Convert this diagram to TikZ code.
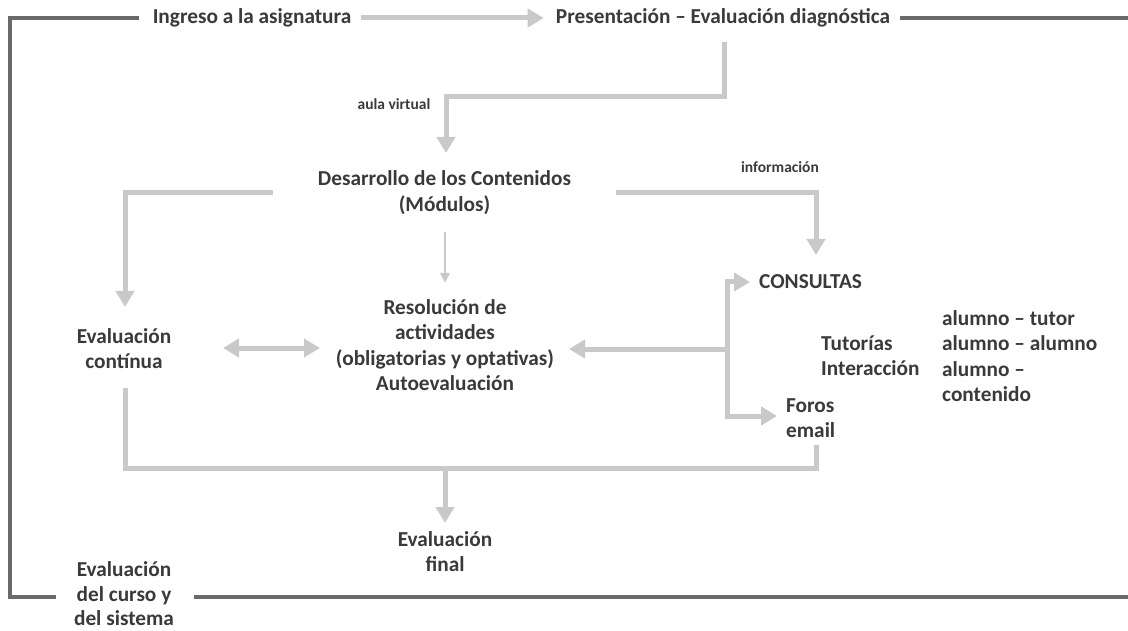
\documentclass[tikz,border=0pt]{standalone}
\usepackage{fontspec}
\setmainfont{Carlito}
\usetikzlibrary{arrows.meta}
\definecolor{txtc}{HTML}{3A3A3A}
\definecolor{lg}{HTML}{C9C9C9}
\definecolor{dg}{HTML}{6A6A6A}
\begin{document}
\begin{tikzpicture}[x=1pt,y=-1pt,
  txt/.style={font=\fontsize{21.3}{25.3}\selectfont\bfseries, text=txtc, inner sep=0pt, align=center},
  lbl/.style={font=\fontsize{15.5}{18}\selectfont\bfseries, text=txtc, inner sep=0pt},
  lline/.style={draw=lg, line width=5pt},
  larr/.style={lline, -{Triangle[length=16pt,width=18pt]}},
  dblarr/.style={lline, {Triangle[length=16pt,width=18pt]}-{Triangle[length=16pt,width=18pt]}},
  thinarr/.style={draw=lg, line width=2.5pt, -{Triangle[length=10pt,width=9pt]}},
  dline/.style={draw=dg, line width=3.5pt}]
\useasboundingbox[fill=white] (0,0) rectangle (1128,631);

% nodes
\node[txt] (ingreso) at (252,18) {Ingreso a la asignatura};
\node[txt] (pres) at (723,18) {Presentación – Evaluación diagnóstica};
\node[lbl] (aula) at (394,104) {aula virtual};
\node[txt] (desa) at (444.5,192.5) {Desarrollo de los Contenidos\\(Módulos)};
\node[lbl] (info) at (780,167) {información};
\node[txt, anchor=west] (cons) at (759,282) {CONSULTAS};
\node[txt] (evc) at (124,348.5) {Evaluación\\contínua};
\node[txt] (resol) at (445,345) {Resolución de\\actividades\\(obligatorias y optativas)\\Autoevaluación};
\node[txt, anchor=west, align=left] (tut) at (821,356) {Tutorías\\Interacción};
\node[txt, anchor=west, align=left] (alum) at (942,356) {alumno – tutor\\alumno – alumno\\alumno –\\contenido};
\node[txt, anchor=west, align=left] (foros) at (786,418.5) {Foros\\email};
\node[txt] (evf) at (445,551.5) {Evaluación\\final};
\node[txt, font=\fontsize{21.3}{24.5}\selectfont\bfseries] (evcs) at (124,594) {Evaluación\\del curso y\\del sistema};

% coordinates
\coordinate (tl) at (10,18);
\coordinate (bl) at (10,597);
\coordinate (tr) at (1128,18);
\coordinate (br) at (1128,597);
\coordinate (p0) at (724,42);
\coordinate (p1) at (724,97);
\coordinate (p2) at (446,97);
\coordinate (p3) at (446,153);
\coordinate (dl0) at (273,193);
\coordinate (dl1) at (125,193);
\coordinate (dl2) at (125,307);
\coordinate (dr0) at (616,193);
\coordinate (dr1) at (816,193);
\coordinate (dr2) at (816,255);
\coordinate (dm0) at (445,232);
\coordinate (dm1) at (445,283);
\coordinate (ea) at (223,348);
\coordinate (eb) at (320,348);
\coordinate (br0) at (727,349);
\coordinate (br1) at (569,349);
\coordinate (br2) at (750,282);
\coordinate (br3) at (777,416);
\coordinate (f0) at (816,445);
\coordinate (f1) at (816,468);
\coordinate (f2) at (125,468);
\coordinate (f3) at (125,388);
\coordinate (fm) at (445,468);
\coordinate (fe) at (445,523);

% dark loop
\draw[dline] ([xshift=-14pt]ingreso.west) -- (tl) -- (bl) -- ([xshift=-18pt]evcs.west |- bl);
\draw[dline] ([xshift=20pt]evcs.east |- br) -- (br);
\draw[dline] ([xshift=10pt]pres.east) -- (tr);

% light connectors
\draw[larr] ([xshift=10pt]ingreso.east) -- ([xshift=-12pt]pres.west);
\draw[larr] (p0) -- (p1) -- (p2) -- (p3);
\draw[larr] (dl0) -- (dl1) -- (dl2);
\draw[larr] (dr0) -- (dr1) -- (dr2);
\draw[thinarr] (dm0) -- (dm1);
\draw[dblarr] (ea) -- (eb);
\draw[larr] (br0) -- (br1);
\draw[larr] (br0) |- (br2);
\draw[larr] (br0) |- (br3);
\draw[lline] (f0) -- (f1) -- (f2) -- (f3);
\draw[larr] (fm) -- (fe);
\end{tikzpicture}
\end{document}
